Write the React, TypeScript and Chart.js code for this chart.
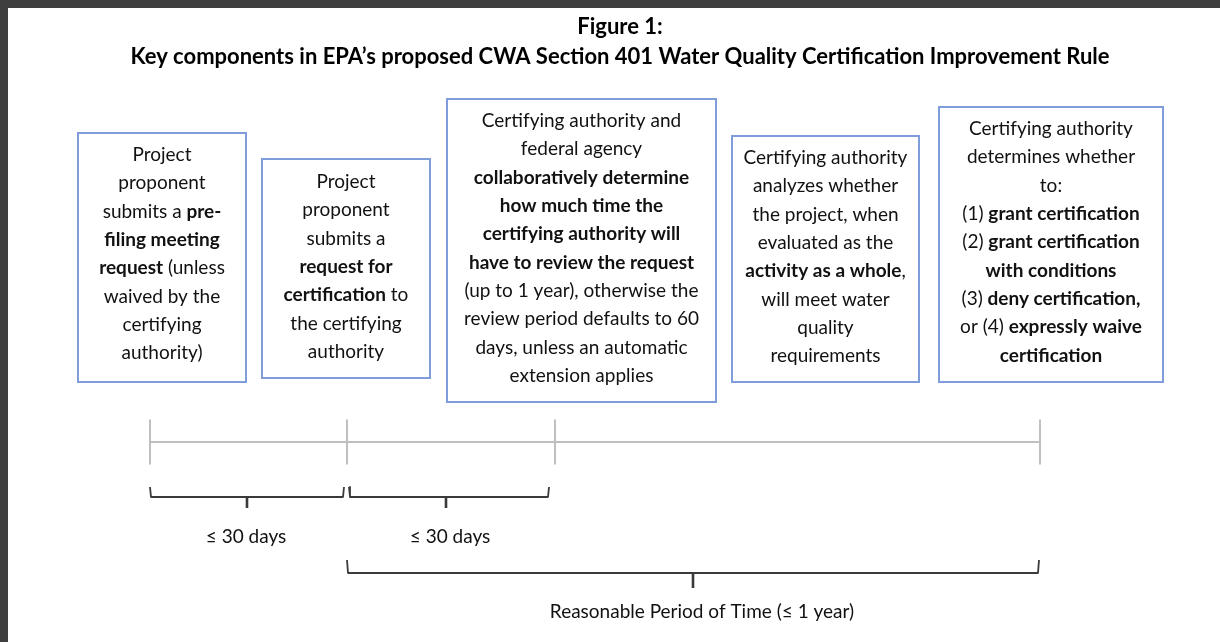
import React, { useEffect, useRef } from 'react';
import { Chart, registerables } from 'chart.js';

Chart.register(...registerables);

// ---------- content ----------
const TITLE_LINES = [
  'Figure 1:',
  'Key components in EPA\u2019s proposed CWA Section 401 Water Quality Certification Improvement Rule',
];

// ** marks bold runs
const STEP_PREFILING = [
  'Project',
  'proponent',
  'submits a **pre-**',
  '**filing meeting**',
  '**request** (unless',
  'waived by the',
  'certifying',
  'authority)',
];
const STEP_REQUEST = [
  'Project',
  'proponent',
  'submits a',
  '**request for**',
  '**certification** to',
  'the certifying',
  'authority',
];
const STEP_REVIEW_PERIOD = [
  'Certifying authority and',
  'federal agency',
  '**collaboratively determine**',
  '**how much time the**',
  '**certifying authority will**',
  '**have to review the request**',
  '(up to 1 year), otherwise the',
  'review period defaults to 60',
  'days, unless an automatic',
  'extension applies',
];
const STEP_ANALYSIS = [
  'Certifying authority',
  'analyzes whether',
  'the project, when',
  'evaluated as the',
  '**activity as a whole**,',
  'will meet water',
  'quality',
  'requirements',
];
const STEP_DECISION = [
  'Certifying authority',
  'determines whether',
  'to:',
  '(1) **grant certification**',
  '(2) **grant certification**',
  '**with conditions**',
  '(3) **deny certification,**',
  'or (4) **expressly waive**',
  '**certification**',
];

const STEPS = [STEP_PREFILING, STEP_REQUEST, STEP_REVIEW_PERIOD, STEP_ANALYSIS, STEP_DECISION];

// timeline milestones (page x) and period labels
const MILESTONES = [150, 347, 555, 1040];
const PERIOD_LABELS = ['\u2264 30 days', '\u2264 30 days', 'Reasonable Period of Time (\u2264 1 year)'];

// ---------- layout ----------
const TIMELINE_Y = 442;
const TICK_HALF = 22.5;
const BOX_LAYOUT = [
  { x0: 78, x1: 246, y0: 133, y1: 382, first: 155 },
  { x0: 262, x1: 430, y0: 159, y1: 378, first: 182 },
  { x0: 447, x1: 716, y0: 99, y1: 402, first: 121 },
  { x0: 732, x1: 919, y0: 136, y1: 382, first: 158 },
  { x0: 939, x1: 1163, y0: 107, y1: 382, first: 129 },
];
const LINE_GAP = 28.3;
const BRACKET_LAYOUT = [
  { x0: 150, x1: 344, xm: 247, yTop: 487, yMid: 497, yStem: 508, labelX: 246, labelY: 537 },
  { x0: 349, x1: 549, xm: 446, yTop: 487, yMid: 497, yStem: 508, labelX: 450, labelY: 537 },
  { x0: 347, x1: 1039, xm: 693, yTop: 560, yMid: 573, yStem: 588, labelX: 702, labelY: 612 },
];
const TITLE_Y = [27, 57];
const CENTER_X = 620;

const FONT = 'Lato, "Open Sans", sans-serif';
const BODY_SIZE = 19;
const TITLE_SIZE = 22;
const BOX_COLOR = '#7f9cdb';
const TEXT_COLOR = '#111111';
const TIMELINE_COLOR = '#bfbfbf';
const BRACKET_COLOR = '#3a3a3a';

function parseRich(line: string) {
  return line
    .split('**')
    .map((t, i) => ({ t, bold: i % 2 === 1 }))
    .filter((p) => p.t.length > 0);
}

const diagramPlugin = {
  id: 'diagram',
  beforeDatasetsDraw(chart: any) {
    const { ctx, scales } = chart;
    const xs = scales.x;
    const ys = scales.y;
    ctx.save();
    BOX_LAYOUT.forEach((b) => {
      const l = xs.getPixelForValue(b.x0);
      const r = xs.getPixelForValue(b.x1);
      const t = ys.getPixelForValue(b.y0);
      const btm = ys.getPixelForValue(b.y1);
      ctx.fillStyle = '#ffffff';
      ctx.fillRect(l, t, r - l, btm - t);
      ctx.strokeStyle = BOX_COLOR;
      ctx.lineWidth = 2;
      ctx.strokeRect(l, t, r - l, btm - t);
    });
    ctx.restore();
  },
  afterDatasetsDraw(chart: any) {
    const { ctx, scales } = chart;
    const xs = scales.x;
    const ys = scales.y;
    ctx.save();
    ctx.textBaseline = 'middle';
    ctx.fillStyle = TEXT_COLOR;
    const fontFor = (bold: boolean, size: number) => `${bold ? 'bold ' : ''}${size}px ${FONT}`;

    STEPS.forEach((lines, i) => {
      const b = BOX_LAYOUT[i];
      const cx = xs.getPixelForValue((b.x0 + b.x1) / 2);
      lines.forEach((line, j) => {
        const y = ys.getPixelForValue(b.first + j * LINE_GAP);
        const parts = parseRich(line);
        let total = 0;
        const widths = parts.map((p) => {
          ctx.font = fontFor(p.bold, BODY_SIZE);
          const w = ctx.measureText(p.t).width;
          total += w;
          return w;
        });
        let x = cx - total / 2;
        ctx.textAlign = 'left';
        parts.forEach((p, k) => {
          ctx.font = fontFor(p.bold, BODY_SIZE);
          ctx.fillText(p.t, x, y);
          x += widths[k];
        });
      });
    });

    ctx.textAlign = 'center';
    ctx.fillStyle = '#000000';
    ctx.font = fontFor(true, TITLE_SIZE);
    TITLE_LINES.forEach((t, i) => {
      ctx.fillText(t, xs.getPixelForValue(CENTER_X), ys.getPixelForValue(TITLE_Y[i]));
    });

    ctx.fillStyle = TEXT_COLOR;
    ctx.font = fontFor(false, BODY_SIZE);
    PERIOD_LABELS.forEach((t, i) => {
      const b = BRACKET_LAYOUT[i];
      ctx.fillText(t, xs.getPixelForValue(b.labelX), ys.getPixelForValue(b.labelY));
    });
    ctx.restore();
  },
};

function bracketPoints(b: any) {
  return [
    { x: b.x0, y: b.yTop },
    { x: b.x0 + 1, y: b.yMid },
    { x: b.x1 - 1, y: b.yMid },
    { x: b.x1, y: b.yTop },
  ];
}
function stemPoints(b: any) {
  return [
    { x: b.xm, y: b.yMid },
    { x: b.xm, y: b.yStem },
  ];
}

export default function App() {
  const canvasRef = useRef<HTMLCanvasElement | null>(null);

  useEffect(() => {
    document.body.style.background = '#3f3f3f';
    document.documentElement.style.background = '#3f3f3f';
    const canvas = canvasRef.current;
    if (!canvas) return;

    const timeline = {
      type: 'line',
      data: MILESTONES.map((x) => ({ x, y: TIMELINE_Y })),
      borderColor: TIMELINE_COLOR,
      borderWidth: 2,
      pointStyle: 'line',
      rotation: 90,
      pointRadius: TICK_HALF,
      pointHoverRadius: TICK_HALF,
      pointBorderColor: TIMELINE_COLOR,
      pointBorderWidth: 2,
      tension: 0,
      order: 3,
    };
    const brackets = BRACKET_LAYOUT.map((b) => ({
      type: 'line',
      data: bracketPoints(b),
      borderColor: BRACKET_COLOR,
      borderWidth: 1.8,
      pointRadius: 0,
      tension: 0,
      borderJoinStyle: 'round',
      order: 2,
    }));
    const stems = BRACKET_LAYOUT.map((b) => ({
      type: 'line',
      data: stemPoints(b),
      borderColor: BRACKET_COLOR,
      borderWidth: 2.6,
      pointRadius: 0,
      tension: 0,
      order: 1,
    }));

    const chart = new Chart(canvas, {
      type: 'line',
      data: { datasets: [timeline, ...brackets, ...stems] as any },
      options: {
        responsive: false,
        animation: false,
        devicePixelRatio: 1,
        layout: { padding: 0, autoPadding: false },
        events: [],
        parsing: false,
        plugins: {
          legend: { display: false },
          tooltip: { enabled: false },
          title: { display: false },
        },
        scales: {
          x: { type: 'linear', min: 8, max: 1220, display: false },
          y: { type: 'linear', min: 8, max: 642, reverse: true, display: false },
        },
      } as any,
      plugins: [diagramPlugin],
    });
    return () => chart.destroy();
  }, []);

  return (
    <div
      style={{
        position: 'fixed',
        left: 8,
        top: 8,
        right: 0,
        bottom: 0,
        overflow: 'hidden',
        background: '#ffffff',
      }}
    >
      <canvas ref={canvasRef} width={1212} height={634} style={{ display: 'block' }} />
    </div>
  );
}
